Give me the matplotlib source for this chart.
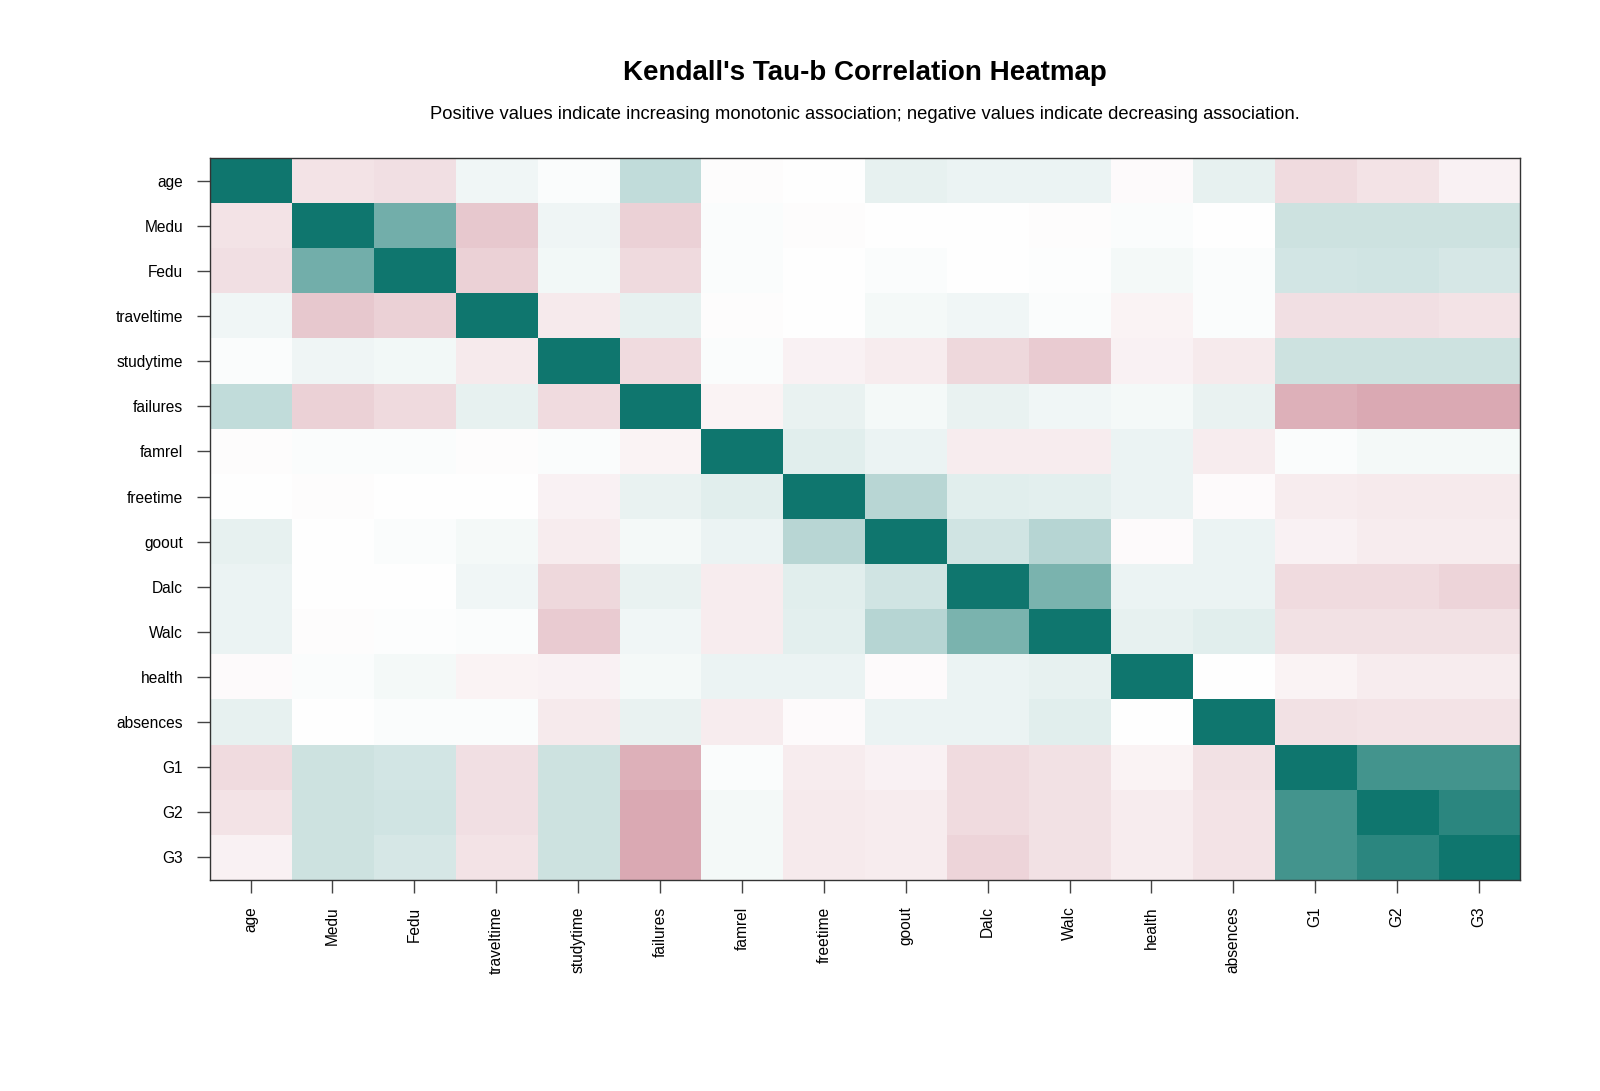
#!/usr/bin/env python3
"""Kendall's tau-b correlation heatmap of the student performance variables."""

import numpy as np
import matplotlib
matplotlib.use("Agg")
import matplotlib.pyplot as plt
from matplotlib.colors import LinearSegmentedColormap

plt.rcParams["font.family"] = ["Liberation Sans", "DejaVu Sans"]

variables = ["age", "Medu", "Fedu", "traveltime", "studytime", "failures",
             "famrel", "freetime", "goout", "Dalc", "Walc", "health",
             "absences", "G1", "G2", "G3"]

# upper triangle, row by row (values right of the diagonal)
tau_age = [-0.12, -0.14, 0.06, 0.02, 0.25, -0.01, 0.00, 0.10, 0.08, 0.08, -0.02, 0.10, -0.15, -0.12, -0.06]
tau_medu = [0.58, -0.24, 0.07, -0.20, 0.02, -0.01, 0.00, 0.00, -0.01, 0.02, 0.00, 0.21, 0.21, 0.21]
tau_fedu = [-0.20, 0.05, -0.16, 0.02, 0.00, 0.02, 0.00, 0.01, 0.04, 0.02, 0.18, 0.19, 0.17]
tau_traveltime = [-0.09, 0.10, -0.01, 0.00, 0.04, 0.06, 0.02, -0.05, 0.02, -0.14, -0.14, -0.12]
tau_studytime = [-0.15, 0.02, -0.06, -0.08, -0.17, -0.22, -0.06, -0.09, 0.21, 0.21, 0.21]
tau_failures = [-0.05, 0.09, 0.04, 0.09, 0.06, 0.04, 0.09, -0.34, -0.37, -0.37]
tau_famrel = [0.12, 0.08, -0.08, -0.08, 0.08, -0.08, 0.02, 0.04, 0.04]
tau_freetime = [0.29, 0.12, 0.11, 0.08, -0.02, -0.08, -0.09, -0.09]
tau_goout = [0.19, 0.30, -0.02, 0.08, -0.06, -0.08, -0.08]
tau_dalc = [0.55, 0.08, 0.08, -0.15, -0.15, -0.18]
tau_walc = [0.10, 0.12, -0.13, -0.13, -0.13]
tau_health = [0.00, -0.05, -0.08, -0.08]
tau_absences = [-0.13, -0.12, -0.12]
tau_g1 = [0.78, 0.78]
tau_g2 = [0.88]

upper_rows = [tau_age, tau_medu, tau_fedu, tau_traveltime, tau_studytime,
              tau_failures, tau_famrel, tau_freetime, tau_goout, tau_dalc,
              tau_walc, tau_health, tau_absences, tau_g1, tau_g2]


def build_matrix(rows, n):
    m = np.eye(n)
    for i, row in enumerate(rows):
        for k, v in enumerate(row):
            j = i + 1 + k
            m[i, j] = v
            m[j, i] = v
    return m


def main():
    n = len(variables)
    corr = build_matrix(upper_rows, n)

    cmap = LinearSegmentedColormap.from_list(
        "rose_teal", ["#9E1A33", "#FFFFFF", "#0F766E"], N=256)

    fig = plt.figure(figsize=(16, 10.91), dpi=100)
    ax = fig.add_axes([0.131, 0.1934, 0.819, 0.6616])

    ax.imshow(corr, cmap=cmap, vmin=-1, vmax=1, aspect="auto",
              interpolation="nearest")

    ax.set_xticks(range(n))
    ax.set_yticks(range(n))
    ax.set_xticklabels(variables, rotation=90, va="top", fontsize=11.2)
    ax.set_yticklabels(variables, fontsize=11.2)
    ax.tick_params(length=9.5, width=1, color="#444444", pad=9.5)
    for s in ax.spines.values():
        s.set_color("#333333")
        s.set_linewidth(1)

    cx = 0.131 + 0.819 / 2
    fig.text(cx, 0.933, "Kendall's Tau-b Correlation Heatmap",
             ha="center", va="center", fontsize=20, fontweight="bold")
    fig.text(cx, 0.895,
             "Positive values indicate increasing monotonic association; "
             "negative values indicate decreasing association.",
             ha="center", va="center", fontsize=13.2)

    fig.savefig("out.png", dpi=100)
    plt.close(fig)


if __name__ == "__main__":
    main()
